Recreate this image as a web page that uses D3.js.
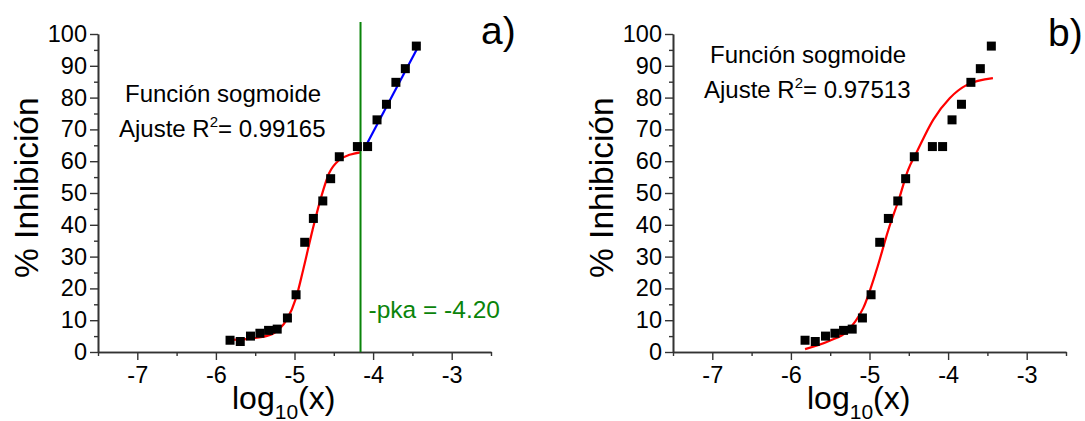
<!DOCTYPE html>
<html>
<head>
<meta charset="utf-8">
<title>Inhibicion</title>
<style>
  body { margin: 0; background: #fff; }
  svg { display: block; font-family: "Liberation Sans", Arial, sans-serif; }
</style>
</head>
<body>
<script src="https://cdn.jsdelivr.net/npm/d3@7/dist/d3.min.js"></script>
<script>
// datos medidos (log10 de concentracion, % inhibicion)
var logX  = [-5.82, -5.69, -5.56, -5.44, -5.33, -5.22, -5.09, -4.98, -4.87, -4.76,
             -4.64, -4.54, -4.43, -4.20, -4.07, -3.95, -3.83, -3.71, -3.59, -3.45];
var inhib = [3.7, 3.3, 5.0, 5.9, 6.8, 7.2, 10.7, 18.0, 34.5, 42.0,
             47.5, 54.5, 61.4, 64.6, 64.6, 73.0, 77.9, 84.8, 89.1, 96.2];

// ajuste sigmoide a) (leido de la curva roja)
var fitAX = [-5.82, -5.53, -5.28, -5.19, -5.10, -4.98, -4.89, -4.77, -4.66, -4.56, -4.43, -4.30, -4.16];
var fitAY = [3.8, 4.3, 5.7, 7.3, 10.1, 17.0, 25.8, 38.4, 48.8, 56.2, 60.4, 62.0, 62.8];
// ajuste lineal a) (recta azul)
var linAX = [-4.08, -3.41];
var linAY = [65.4, 96.8];
// -pka
var pkaX = -4.16;
var pkaLabel = "-pka = -4.20";

// ajuste sigmoide b)
var fitBX = [-5.82, -5.50, -5.29, -5.18, -5.08, -4.91, -4.76, -4.62, -4.51, -4.40, -4.19, -3.98, -3.76, -3.43];
var fitBY = [0.9, 3.6, 6.4, 9.6, 13.8, 25.8, 38.4, 48.5, 57.2, 62.8, 73.0, 79.8, 84.0, 86.1];

var xTicks = [-7, -6, -5, -4, -3];
var xMinor = [-7.5, -6.5, -5.5, -4.5, -3.5, -2.5];
var yTicks = [0, 10, 20, 30, 40, 50, 60, 70, 80, 90, 100];
var yMinor = [5, 15, 25, 35, 45, 55, 65, 75, 85, 95];
var r2A = "0.99165";
var r2B = "0.97513";

var widthCanvas = 1085, heightCanvas = 421;
var svg = d3.select("body").append("svg")
            .attr("width", widthCanvas)
            .attr("height", heightCanvas);

var y = d3.scaleLinear().domain([0, 100]).range([352, 34]);
var axisColor = "#333";

function drawAxes(x, left) {
  var gx = svg.append("g").attr("transform", "translate(0,352)");
  gx.call(d3.axisBottom(x).tickValues(xMinor).tickSize(4).tickSizeOuter(0).tickFormat(""));
  gx.append("g").call(d3.axisBottom(x).tickValues(xTicks).tickSize(8).tickSizeOuter(0).tickPadding(6)
      .tickFormat(function(d){ return d; }));
  var gy = svg.append("g").attr("transform", "translate(" + left + ",0)");
  gy.call(d3.axisLeft(y).tickValues(yMinor).tickSize(4).tickSizeOuter(0).tickFormat(""));
  gy.append("g").call(d3.axisLeft(y).tickValues(yTicks).tickSize(8).tickSizeOuter(0).tickPadding(3));

  svg.selectAll(".domain").attr("stroke", axisColor).attr("stroke-width", 1.6);
  svg.selectAll(".tick line").attr("stroke", axisColor).attr("stroke-width", 1.4);
  svg.selectAll(".tick text").attr("font-size", 23.5).attr("fill", "#000")
     .attr("font-family", "Liberation Sans, Arial, sans-serif");

  // titulo eje x
  var tx = svg.append("text").attr("x", left + 134).attr("y", 409)
              .attr("font-size", 32).attr("fill", "#000");
  tx.append("tspan").text("log");
  tx.append("tspan").attr("font-size", 21).attr("dy", 10).text("10");
  tx.append("tspan").attr("dy", -10).text("(x)");

  // titulo eje y
  svg.append("text")
     .attr("transform", "translate(" + (left - 60) + ",278) rotate(-90)")
     .attr("font-size", 33.5).attr("fill", "#000")
     .text("% Inhibición");
}

function drawPoints(x) {
  svg.append("g").selectAll("rect")
     .data(d3.range(logX.length))
     .enter().append("rect")
     .attr("x", function(i){ return x(logX[i]) - 4.5; })
     .attr("y", function(i){ return y(inhib[i]) - 4.5; })
     .attr("width", 9).attr("height", 9)
     .attr("fill", "#000");
}

function drawCurve(x, xs, ys, color, curve) {
  var line = d3.line()
      .x(function(i){ return x(xs[i]); })
      .y(function(i){ return y(ys[i]); })
      .curve(curve);
  svg.append("path").datum(d3.range(xs.length))
     .attr("d", line).attr("fill", "none")
     .attr("stroke", color).attr("stroke-width", 2.2);
}

function drawFitText(x0, y0, r2) {
  svg.append("text").attr("x", x0 + 6).attr("y", y0)
     .attr("font-size", 24).attr("fill", "#000").text("Función sogmoide");
  var t = svg.append("text").attr("x", x0).attr("y", y0 + 35)
     .attr("font-size", 24).attr("fill", "#000");
  t.append("tspan").text("Ajuste R");
  t.append("tspan").attr("font-size", 15).attr("dy", -10).text("2");
  t.append("tspan").attr("dy", 10).text("= " + r2);
}

// ---- panel a) ----
var xA = d3.scaleLinear().domain([-7.5, -2.5]).range([98, 491]);
drawAxes(xA, 98);
drawCurve(xA, fitAX, fitAY, "#ff0000", d3.curveMonotoneX);
drawCurve(xA, linAX, linAY, "#0000ff", d3.curveLinear);
svg.append("line")
   .attr("x1", xA(pkaX)).attr("x2", xA(pkaX))
   .attr("y1", 22).attr("y2", y(0))
   .attr("stroke", "#0a840a").attr("stroke-width", 2);
drawPoints(xA);
drawFitText(119, 102, r2A);
svg.append("text").attr("x", xA(pkaX) + 8).attr("y", 318)
   .attr("font-size", 24.5).attr("fill", "#0a840a").text(pkaLabel);
svg.append("text").attr("x", 481).attr("y", 44)
   .attr("font-size", 39).attr("fill", "#000").text("a)");

// ---- panel b) ----
var xB = d3.scaleLinear().domain([-7.5, -2.5]).range([673, 1066]);
drawAxes(xB, 673);
drawCurve(xB, fitBX, fitBY, "#ff0000", d3.curveMonotoneX);
drawPoints(xB);
drawFitText(704, 63, r2B);
svg.append("text").attr("x", 1048).attr("y", 46)
   .attr("font-size", 39).attr("fill", "#000").text("b)");
</script>
</body>
</html>
